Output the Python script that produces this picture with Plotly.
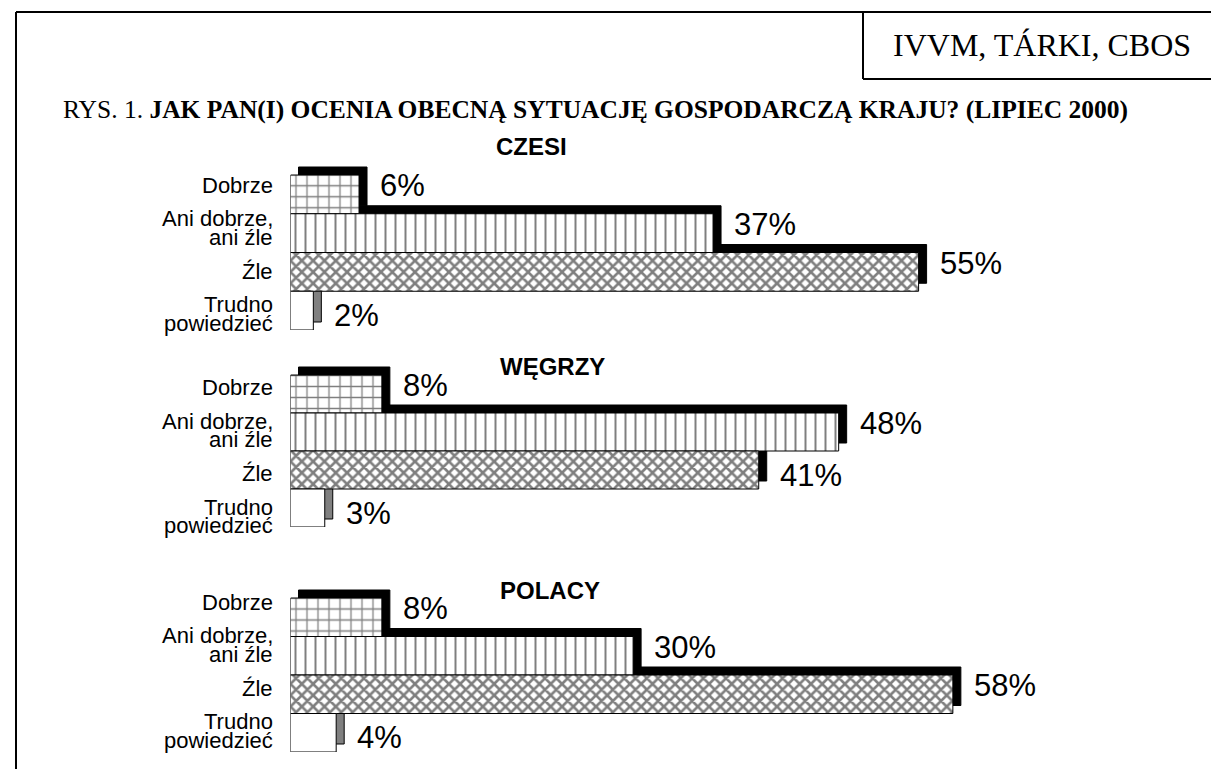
import plotly.graph_objects as go

# ---------------- data ----------------
categories = ["Dobrze", "Ani dobrze,\nani źle", "Źle", "Trudno\npowiedzieć"]
groups = ["CZESI", "WĘGRZY", "POLACY"]
czesi = [6, 37, 55, 2]
wegrzy = [8, 48, 41, 3]
polacy = [8, 30, 58, 4]
series = [czesi, wegrzy, polacy]
source_text = "IVVM, TÁRKI, CBOS"
title_prefix = "RYS. 1. "
title_main = "JAK PAN(I) OCENIA OBECNĄ SYTUACJĘ GOSPODARCZĄ KRAJU? (LIPIEC 2000)"

# ---------------- layout constants (pixels) ----------------
W, H = 1211, 769
X0 = 290.5            # left edge of bars
PXP = 11.42           # pixels per percent
panel_top = [175, 375, 598]
row_h = [38.75, 38.0, 38.5]
panel_title_xy = [(531, 146), (552, 366), (550, 590)]
label_off = [10, 12.5, 4]
LABEL_STEP = 43.0
LINE_STEP = 18.5
DEPTH = 8.0
LABEL_RIGHT = 274
PCT_PAD = 20

SANS = "Liberation Sans, Arial, sans-serif"
SERIF = "Liberation Serif, Times New Roman, serif"

pattern_shapes = ["+", "|", "x", ""]
pattern_sizes = [11, 10, 8, 8]
pattern_solid = [0.22, 0.2, 0.55, 0.1]
side_colors = ["black", "black", "black", "#808080"]

fig = go.Figure()
xmax = (W - X0) / PXP
dx = DEPTH / PXP
pos = list(range(len(categories)))

annotations = []
for p, (grp, vals) in enumerate(zip(groups, series)):
    k = "" if p == 0 else str(p + 1)
    xa, ya = "x" + k, "y" + k
    rh = row_h[p]
    dy = DEPTH / rh
    # 3-D depth (drawn behind)
    fig.add_trace(go.Bar(
        orientation="h", y=pos, x=vals, base=[dx] * len(vals),
        width=1, offset=-0.5 - dy,
        marker=dict(color=side_colors, line=dict(color="black", width=1)),
        xaxis=xa, yaxis=ya, hoverinfo="skip", showlegend=False))
    # front faces
    fig.add_trace(go.Bar(
        orientation="h", y=pos, x=vals, width=1, offset=-0.5,
        marker=dict(color="white", line=dict(color="black", width=1),
                    pattern=dict(shape=pattern_shapes, fgcolor="black",
                                 bgcolor="white", size=pattern_sizes,
                                 solidity=pattern_solid)),
        xaxis=xa, yaxis=ya, hoverinfo="skip", showlegend=False))

    top = panel_top[p]
    dom_bottom = top + 4 * rh
    dom_top = top - rh
    fig.update_layout({
        ("xaxis" + k): dict(domain=[X0 / W, 1], range=[0, xmax], visible=False,
                            fixedrange=True, anchor=ya),
        ("yaxis" + k): dict(domain=[1 - dom_bottom / H, 1 - dom_top / H],
                            range=[3.5, -1.5], visible=False, fixedrange=True,
                            anchor=xa),
    })

    # value labels
    for i, v in enumerate(vals):
        up = (i == 0) or (v > vals[i - 1])
        shift = -8.5 / rh if up else 5.0 / rh
        annotations.append(dict(
            x=v + PCT_PAD / PXP, y=pos[i] + shift, xref=xa, yref=ya,
            text=f"{v}%", showarrow=False, xanchor="left", yanchor="middle",
            font=dict(family=SANS, size=31, color="black"), borderpad=0))

    # category labels
    for i, cat in enumerate(categories):
        lines = cat.split("\n")
        cpx = top + label_off[p] + i * LABEL_STEP
        for j, ln in enumerate(lines):
            lpx = cpx + (j - (len(lines) - 1) / 2) * LINE_STEP
            annotations.append(dict(
                x=LABEL_RIGHT / W, xref="paper", y=(lpx - top) / rh - 0.5, yref=ya,
                text=ln, showarrow=False, xanchor="right", yanchor="middle",
                font=dict(family=SANS, size=22, color="black"), borderpad=0))

    # panel title
    tx, ty = panel_title_xy[p]
    annotations.append(dict(
        x=tx / W, y=1 - ty / H, xref="paper", yref="paper", text=f"<b>{grp}</b>",
        showarrow=False, xanchor="center", yanchor="middle",
        font=dict(family=SANS, size=24, color="black")))

# figure title and source box text
annotations.append(dict(
    x=61 / W, y=1 - 109 / H, xref="paper", yref="paper",
    text=f"{title_prefix}<b>{title_main}</b>", showarrow=False,
    xanchor="left", yanchor="middle", font=dict(family=SERIF, size=25.5, color="black")))
annotations.append(dict(
    x=1042 / W, y=1 - 45 / H, xref="paper", yref="paper", text=source_text,
    showarrow=False, xanchor="center", yanchor="middle",
    font=dict(family=SERIF, size=32, color="black")))

frame = dict(color="black", width=2)
shapes = [
    dict(type="line", xref="paper", yref="paper", x0=16 / W, x1=1, y0=1 - 12 / H, y1=1 - 12 / H, line=frame),
    dict(type="line", xref="paper", yref="paper", x0=16 / W, x1=16 / W, y0=1 - 12 / H, y1=0, line=frame),
    dict(type="line", xref="paper", yref="paper", x0=863 / W, x1=863 / W, y0=1 - 12 / H, y1=1 - 79 / H, line=frame),
    dict(type="line", xref="paper", yref="paper", x0=863 / W, x1=1, y0=1 - 79 / H, y1=1 - 79 / H, line=frame),
]

fig.update_layout(
    width=W, height=H, margin=dict(l=0, r=0, t=0, b=0),
    paper_bgcolor="white", plot_bgcolor="rgba(0,0,0,0)",
    barmode="overlay", showlegend=False,
    annotations=annotations, shapes=shapes,
)

fig.write_html("out.html", config={"displayModeBar": False},
               post_script="document.body.style.margin='0';document.body.style.overflow='hidden';")
